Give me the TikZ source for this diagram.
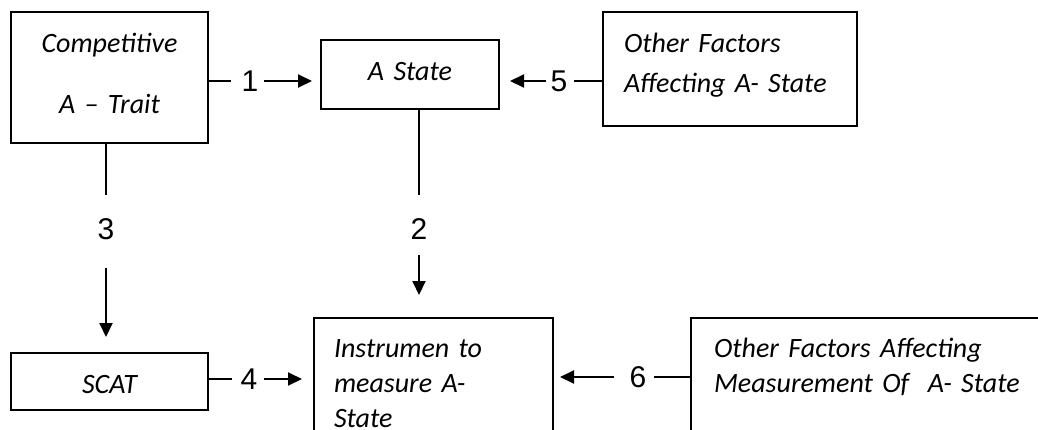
\documentclass[tikz,border=0pt]{standalone}
\usepackage{fontspec}
\newfontfamily\boxfont{Carlito}
\newfontfamily\numfont{Liberation Sans}
\usetikzlibrary{arrows.meta}

\begin{document}
\begin{tikzpicture}[x=1pt,y=-1pt]
        \tikzstyle{box}=[draw,line width=2pt,anchor=base west,
            inner xsep=0pt,inner ysep=0pt]
        \tikzstyle{num}=[inner sep=0pt,font=\numfont\fontsize{30}{36}\selectfont]
        \tikzstyle{link}=[line width=2pt]
        \tikzstyle{arr}=[line width=2pt,-{Triangle[length=14pt,width=13pt]}]

            \fill[white] (0,0) rectangle (1038,429);
            \useasboundingbox (0,0) rectangle (1038,429);
            \clip (0,0) rectangle (1038,429);

            % boxes
            \node[box, text width=197pt, text height=40pt, text depth=91pt,
            align=center, font=\boxfont\itshape\fontsize{28}{61}\selectfont]
            (trait) at (10,52) {Competitive\\A – Trait};
            \node[box, text width=178pt, text height=40pt, text depth=29pt,
            align=center, font=\boxfont\itshape\fontsize{28}{34}\selectfont]
            (astate) at (320,80) {A State};
            \node[box, inner xsep=21pt, text width=212pt, text height=40pt,
            text depth=74pt, align=left,
            font=\boxfont\itshape\fontsize{28}{40}\selectfont]
            (otherA) at (602,52) {Other Factors\\Affecting A- State};
            \node[box, text width=197pt, text height=40pt, text depth=17pt,
            align=center, font=\boxfont\itshape\fontsize{28}{34}\selectfont]
            (scat) at (10,393) {SCAT};
            \node[box, inner xsep=20pt, text width=199pt, text height=39pt,
            text depth=113pt, align=left,
            font=\boxfont\itshape\fontsize{28}{35}\selectfont]
            (instr) at (313,357) {Instrumen to\\measure A-\\State};
            \node[box, inner xsep=23pt, text width=364pt, text height=39pt,
            text depth=113pt, align=left,
            font=\boxfont\itshape\fontsize{28}{35}\selectfont]
            (otherM) at (690,357) {Other Factors Affecting\\Measurement Of\ \ A- State};

            % numbers
            \node[num] (n1) at (250,81) {1};
            \node[num] (n5) at (559,81) {5};
            \node[num] (n3) at (106,229) {3};
            \node[num] (n2) at (419,229) {2};
            \node[num] (n4) at (249,379) {4};
            \node[num] (n6) at (638,377) {6};

            % connectors
            \draw[link, shorten >=10pt] (n1 -| trait.east) -- (n1);
            \draw[arr, shorten <=5pt, shorten >=8pt] (n1) -- (n1 -| astate.west);

            \draw[link, shorten >=6pt] (n5 -| otherA.west) -- (n5);
            \draw[arr, shorten <=4pt, shorten >=10pt] (n5) -- (n5 -| astate.east);

            \draw[link, shorten >=23pt] (trait.south -| n3) -- (n3);
            \draw[arr, shorten <=28pt, shorten >=15pt] (n3) -- (n3 |- scat.north);

            \draw[link, shorten >=23pt] (astate.south -| n2) -- (n2);
            \draw[arr, shorten <=15pt, shorten >=22pt] (n2) -- (n2 |- instr.north);

            \draw[link, shorten >=8pt] (n4 -| scat.east) -- (n4);
            \draw[arr, shorten <=6pt, shorten >=11pt] (n4) -- (n4 -| instr.west);

            \draw[link, shorten >=7pt] (n6 -| otherM.west) -- (n6);
            \draw[arr, shorten <=15pt, shorten >=6pt] (n6) -- (n6 -| instr.east);
\end{tikzpicture}
\end{document}
